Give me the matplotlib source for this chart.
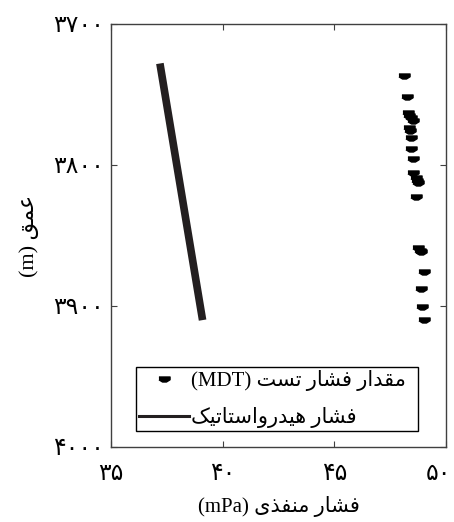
import numpy as np
import matplotlib.pyplot as plt
import matplotlib.transforms as mtransforms
from matplotlib.lines import Line2D

plt.rcParams['font.family'] = ['Liberation Serif', 'DejaVu Sans']

# MDT test pressure points (pressure mPa, depth m)
mdt_pressure = [48.13, 48.27, 48.30, 48.33, 48.42, 48.50, 48.35, 48.40, 48.45,
                48.45, 48.54, 48.50, 48.65, 48.72, 48.76, 48.65, 48.75, 48.82,
                48.90, 49.02, 48.90, 48.94, 49.02]
mdt_depth = [3737, 3752, 3763, 3765, 3767, 3769, 3774, 3776, 3781,
             3789, 3796, 3806, 3809, 3811, 3813, 3823, 3859, 3861,
             3862, 3876, 3888, 3901, 3910]

# hydrostatic line
hydro_pressure = [37.19, 39.10]
hydro_depth = [3728, 3910]

xticks = [35, 40, 45, 50]
xtick_labels = ['۳۵', '۴۰', '۴۵', '۵۰']
yticks = [3700, 3800, 3900, 4000]
ytick_labels = ['۳۷۰۰', '۳۸۰۰', '۳۹۰۰', '۴۰۰۰']

# persian text written in visual order with presentation forms
xlabel = '(mPa) ' + '\uFBFC\uFEAC\uFED4\uFEE8\uFEE3 \uFEAD\uFE8E\uFEB8\uFED3'
ylabel = '(m) ' + '\uFED6\uFEE4\uFECB'
label_mdt = '(MDT) ' + '\uFE96\uFEB4\uFE97 \uFEAD\uFE8E\uFEB8\uFED3 \uFEAD\uFE8D\uFEAA\uFED8\uFEE3'
label_hydro = ('\uFB8F\uFBFF\uFE97\uFE8E\uFE98\uFEB3\uFE8D\uFEED\uFEAD\uFEAA\uFBFF\uFEEB'
               ' \uFEAD\uFE8E\uFEB8\uFED3')

fig = plt.figure(figsize=(4.54, 5.22), dpi=100)
ax = fig.add_axes([0.2445, 0.1437, 0.7379, 0.8103])

marker_shape = [(-1, 0.45), (1, 0.45), (1, -0.05), (0.35, -0.45), (-0.35, -0.45), (-1, -0.05)]
ax.plot(mdt_pressure, mdt_depth, linestyle='none', marker=marker_shape,
        markersize=8, color='black')
ax.plot(hydro_pressure, hydro_depth, color='#231f20', linewidth=5.5, solid_capstyle='butt')

ax.set_xlim(35, 50)
ax.set_ylim(4000, 3700)
ax.set_xticks(xticks)
ax.set_xticklabels(xtick_labels, fontsize=17)
ax.set_yticks(yticks)
ax.set_yticklabels(ytick_labels, fontsize=17)
ax.tick_params(direction='in', length=4, top=True, right=True, color='#404040')
ax.tick_params(axis='x', pad=12)
ax.tick_params(axis='y', pad=5)
for s in ax.spines.values():
    s.set_color('#404040')
    s.set_linewidth(1.0)

# nudge the last x tick label so it stays inside the figure
last = ax.get_xticklabels()[-1]
last.set_transform(last.get_transform() +
                   mtransforms.ScaledTranslation(-8 / 100, 0, fig.dpi_scale_trans))

ax.set_xlabel(xlabel, fontsize=15, labelpad=8)
ax.set_ylabel(ylabel, fontsize=16, labelpad=10)

handles = [Line2D([], [], linestyle='none', marker=marker_shape, markersize=8, color='black'),
           Line2D([], [], color='#231f20', linewidth=2.2)]
leg = ax.legend(handles, [label_mdt, label_hydro], loc='lower left',
                bbox_to_anchor=(0.0746, 0.0378, 0.842, 0.151), mode='expand',
                fontsize=15, handlelength=2.4, handletextpad=0.1, labelspacing=0.75,
                borderpad=0.15, borderaxespad=0, fancybox=False, framealpha=1,
                edgecolor='black')
leg.get_frame().set_linewidth(1.0)

plt.savefig('out.png', dpi=100)
